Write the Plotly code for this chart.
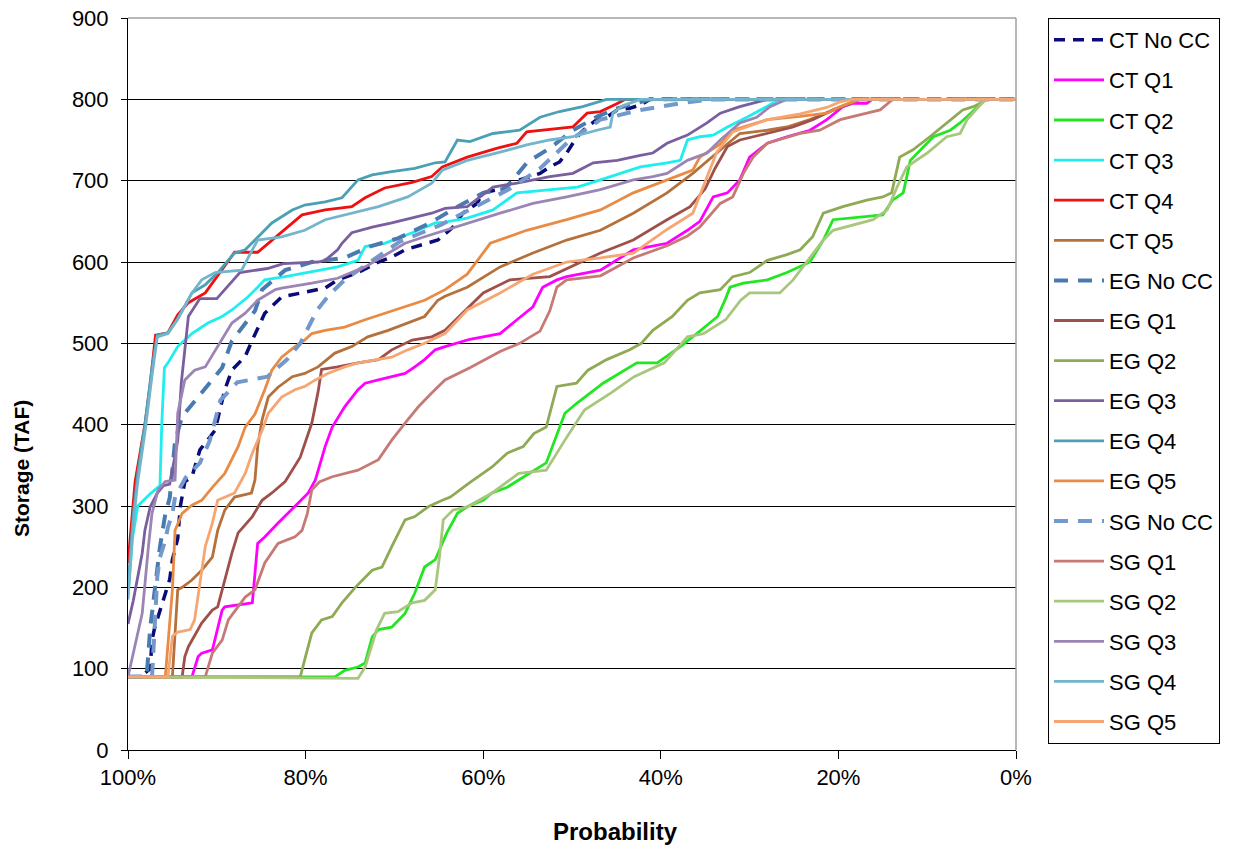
import plotly.graph_objects as go

# ---- data: probability (%) and storage (TAF) per series ----
CT_NOCC_P = [100, 98.6, 97.5, 97.3, 97.0, 96.4, 95.3, 95.0, 94.4, 94.1, 93.6, 92.8, 91.9, 90.2, 89.1, 88.3, 86.8, 86.0, 84.6, 82.7, 80.4, 77.8, 76.4, 74.1, 71.8, 70.3, 68.8, 65.1, 63.4, 62.3, 60.7, 60.0, 57.5, 57.0, 53.6, 52.5, 51.4, 50.6, 49.9, 49.1, 48.3, 47.2, 46.1, 44.9, 43.5, 42.3, 41.2, 0]
CT_NOCC_S = [90, 90, 100, 135, 150, 170, 210, 234, 260, 300, 330, 336, 369, 393, 443, 467, 484, 504, 537, 557, 562, 568, 578, 587, 600, 606, 615, 627, 643, 660, 672, 685, 691, 697, 709, 717, 723, 734, 746, 758, 766, 775, 778, 787, 789, 793, 800, 800]

CT_Q1_P = [100, 92.8, 92.1, 91.7, 90.5, 89.4, 89.1, 86.0, 85.4, 84.6, 83.1, 80.9, 79.7, 78.9, 77.8, 77.0, 75.6, 74.1, 73.3, 71.8, 70.3, 68.8, 67.7, 66.6, 65.4, 64.3, 61.5, 58.1, 56.2, 54.4, 53.3, 51.7, 50.6, 46.8, 43.1, 39.3, 37.0, 35.6, 34.1, 32.5, 31.1, 30.0, 28.0, 25.8, 23.2, 21.3, 19.5, 18.4, 16.8, 16.2, 0]
CT_Q1_S = [90, 90, 115, 119, 123, 172, 176, 181, 254, 262, 279, 303, 316, 332, 373, 397, 422, 443, 451, 455, 459, 463, 471, 480, 492, 496, 505, 512, 529, 545, 569, 578, 582, 590, 615, 623, 639, 650, 680, 685, 701, 729, 746, 754, 762, 775, 791, 795, 795, 800, 800]

CT_Q2_P = [100, 76.7, 75.6, 74.1, 73.3, 72.5, 71.8, 70.3, 68.8, 67.7, 66.6, 65.4, 64.1, 62.9, 61.8, 60.0, 59.0, 57.3, 56.0, 52.9, 50.8, 49.5, 46.5, 42.7, 40.4, 37.8, 35.6, 33.6, 32.7, 32.2, 30.7, 28.0, 25.8, 23.2, 21.7, 20.6, 15.0, 13.9, 12.7, 11.9, 9.3, 7.4, 6.3, 3.7, 3.4, 0]
CT_Q2_S = [90, 90, 98, 102, 107, 139, 148, 151, 168, 193, 225, 234, 267, 291, 299, 307, 316, 323, 332, 353, 414, 426, 451, 476, 476, 496, 515, 533, 555, 569, 574, 578, 587, 600, 627, 652, 658, 676, 685, 725, 754, 762, 771, 797, 800, 800]

CT_Q3_P = [100, 99.5, 98.9, 97.5, 96.4, 96.2, 95.9, 95.5, 94.4, 92.8, 91.0, 89.4, 88.3, 86.5, 85.4, 84.6, 82.3, 79.3, 76.4, 74.1, 73.3, 71.1, 68.0, 65.4, 64.3, 61.8, 58.9, 56.2, 52.5, 49.4, 46.8, 44.6, 42.3, 39.3, 37.8, 37.0, 35.6, 34.1, 32.5, 30.3, 28.8, 27.4, 26.2, 0]
CT_Q3_S = [190, 260, 300, 315, 325, 400, 470, 476, 496, 512, 525, 533, 541, 557, 569, 578, 582, 588, 594, 602, 619, 623, 636, 648, 649, 654, 664, 685, 689, 692, 701, 709, 717, 722, 725, 750, 754, 756, 766, 778, 787, 795, 800, 800]

CT_Q4_P = [100, 99.5, 99.2, 98.1, 97.5, 96.9, 95.5, 94.4, 93.2, 91.3, 88.7, 88.0, 85.4, 83.8, 80.4, 77.8, 74.8, 73.3, 71.1, 68.0, 65.8, 64.6, 61.8, 58.4, 56.2, 55.1, 49.9, 48.3, 46.8, 44.9, 44.0, 0]
CT_Q4_S = [230, 290, 330, 400, 450, 510, 513, 535, 550, 562, 602, 612, 612, 627, 658, 664, 668, 679, 691, 698, 705, 717, 729, 740, 746, 760, 766, 783, 785, 795, 800, 800]

CT_Q5_P = [100, 95.0, 94.4, 93.9, 92.8, 91.7, 90.5, 89.9, 89.1, 88.0, 86.1, 85.7, 85.4, 84.9, 84.2, 83.1, 81.5, 80.1, 78.6, 76.7, 74.8, 73.0, 70.7, 68.5, 66.6, 65.1, 64.3, 61.8, 58.1, 54.4, 50.6, 46.8, 43.1, 39.3, 36.4, 33.7, 31.1, 28.0, 25.8, 23.2, 20.6, 18.4, 17.6, 0]
CT_Q5_S = [90, 90, 197, 200, 209, 221, 237, 270, 295, 311, 316, 332, 373, 406, 434, 446, 459, 463, 471, 488, 496, 508, 516, 525, 533, 553, 558, 569, 594, 611, 627, 639, 660, 685, 709, 734, 758, 762, 766, 775, 787, 797, 800, 800]

EG_NOCC_P = [100, 97.9, 97.5, 97.0, 96.4, 95.8, 95.3, 94.7, 93.9, 93.0, 91.3, 89.4, 88.3, 85.7, 84.9, 82.3, 79.3, 75.6, 72.8, 69.6, 66.0, 62.9, 60.0, 57.5, 55.0, 52.5, 49.9, 47.1, 44.9, 42.7, 41.2, 0]
EG_NOCC_S = [90, 90, 150, 200, 250, 290, 310, 380, 410, 422, 445, 470, 503, 540, 566, 590, 600, 605, 619, 629, 648, 668, 685, 690, 723, 740, 762, 779, 789, 795, 800, 800]

EG_Q1_P = [100, 93.9, 93.6, 93.2, 91.7, 90.5, 89.9, 89.1, 88.3, 87.6, 86.0, 84.9, 83.8, 82.3, 80.6, 79.3, 78.6, 78.2, 76.4, 74.1, 71.8, 70.3, 68.0, 65.8, 64.3, 60.0, 57.0, 52.5, 49.1, 46.8, 43.1, 39.3, 36.7, 35.0, 33.9, 32.5, 31.1, 28.0, 25.1, 22.9, 20.6, 18.7, 17.9, 0]
EG_Q1_S = [90, 90, 115, 127, 156, 172, 176, 209, 242, 267, 287, 307, 316, 330, 360, 402, 440, 468, 471, 476, 480, 492, 504, 508, 516, 562, 578, 582, 599, 611, 627, 652, 668, 690, 715, 742, 750, 758, 766, 775, 787, 795, 800, 800]

EG_Q2_P = [100, 80.6, 80.1, 79.3, 78.2, 77.0, 75.9, 74.4, 72.5, 71.4, 70.3, 68.8, 67.7, 66.2, 64.6, 63.7, 61.6, 59.0, 57.3, 55.5, 54.3, 52.9, 51.7, 49.5, 48.2, 46.1, 43.5, 42.2, 40.9, 38.7, 37.0, 35.6, 33.3, 31.9, 30.0, 28.0, 25.8, 24.3, 22.9, 21.7, 19.5, 16.8, 15.0, 14.0, 13.1, 11.6, 9.7, 7.8, 6.0, 4.8, 3.7, 3.4, 0]
EG_Q2_S = [90, 90, 111, 144, 160, 164, 181, 200, 221, 225, 250, 283, 287, 299, 307, 311, 328, 348, 365, 373, 389, 397, 447, 451, 467, 480, 492, 500, 516, 533, 553, 562, 566, 582, 587, 602, 609, 615, 631, 660, 668, 676, 680, 685, 729, 738, 754, 771, 787, 791, 797, 800, 800]

EG_Q3_P = [100, 99.4, 98.4, 98.1, 97.5, 96.7, 96.0, 95.3, 94.4, 94.0, 93.2, 91.9, 90.0, 88.9, 87.4, 84.3, 82.5, 78.6, 77.8, 76.4, 75.9, 74.8, 72.5, 70.3, 68.0, 65.8, 64.3, 61.8, 58.9, 56.2, 52.5, 49.9, 47.6, 44.9, 42.3, 40.9, 39.3, 37.0, 34.8, 33.3, 31.1, 28.8, 28.0, 0]
EG_Q3_S = [155, 184, 242, 270, 299, 316, 325, 327, 380, 451, 533, 555, 555, 569, 587, 592, 598, 600, 602, 615, 623, 636, 643, 648, 654, 660, 666, 668, 692, 697, 705, 709, 722, 725, 731, 734, 746, 756, 771, 783, 791, 797, 800, 800]

EG_Q4_P = [100, 99.4, 98.9, 98.1, 97.3, 96.7, 95.5, 94.4, 92.8, 91.3, 89.9, 88.7, 88.0, 86.8, 85.7, 83.8, 81.5, 80.1, 77.8, 75.9, 74.1, 72.5, 70.3, 67.7, 65.4, 64.3, 62.9, 61.5, 58.9, 55.9, 53.6, 51.4, 48.8, 46.8, 46.1, 0]
EG_Q4_S = [200, 290, 340, 400, 470, 510, 513, 530, 562, 572, 587, 602, 611, 615, 627, 648, 664, 670, 674, 679, 701, 707, 711, 715, 722, 723, 750, 748, 758, 762, 778, 785, 791, 797, 800, 800]

EG_Q5_P = [100, 95.8, 95.0, 94.7, 93.9, 92.8, 91.7, 90.5, 89.1, 87.6, 86.8, 85.7, 84.6, 83.8, 82.7, 81.2, 80.1, 79.3, 77.8, 75.6, 73.3, 71.1, 68.8, 66.6, 64.3, 61.8, 59.2, 55.1, 50.6, 46.8, 43.1, 39.3, 36.4, 35.6, 33.3, 31.9, 28.0, 24.3, 21.3, 19.8, 18.4, 17.6, 0]
EG_Q5_S = [90, 90, 197, 270, 291, 301, 307, 323, 340, 373, 397, 413, 443, 467, 483, 496, 504, 512, 516, 520, 529, 537, 545, 553, 566, 585, 623, 639, 652, 664, 685, 701, 713, 729, 745, 762, 775, 779, 783, 791, 797, 800, 800]

SG_NOCC_P = [100, 97.3, 97.0, 96.7, 96.4, 95.8, 95.5, 95.0, 94.7, 93.5, 91.9, 90.8, 89.6, 87.7, 84.3, 82.1, 80.6, 79.5, 78.7, 77.3, 75.6, 73.0, 69.4, 64.9, 60.4, 57.0, 53.6, 50.2, 46.8, 42.3, 37.8, 34.5, 0]
SG_NOCC_S = [90, 90, 150, 213, 237, 258, 274, 291, 311, 335, 353, 380, 430, 452, 459, 480, 500, 525, 541, 560, 578, 598, 625, 645, 670, 690, 715, 750, 775, 787, 795, 800, 800]

SG_Q1_P = [100, 91.3, 90.5, 89.4, 88.7, 87.6, 86.8, 85.7, 84.6, 83.1, 81.2, 80.4, 79.8, 79.3, 78.4, 77.0, 74.1, 71.8, 70.3, 68.8, 67.3, 65.8, 64.3, 61.5, 58.1, 55.9, 53.6, 52.5, 51.7, 50.6, 46.8, 43.1, 39.3, 37.0, 35.6, 33.3, 31.9, 30.7, 29.6, 28.0, 24.3, 22.1, 19.8, 16.8, 15.3, 14.2, 13.9, 0]
SG_Q1_S = [90, 90, 119, 135, 160, 176, 188, 197, 230, 254, 262, 270, 291, 320, 330, 336, 344, 357, 381, 402, 422, 439, 455, 470, 490, 500, 515, 540, 569, 578, 583, 605, 620, 632, 643, 672, 680, 709, 729, 746, 758, 762, 775, 783, 787, 797, 800, 800]

SG_Q2_P = [100, 74.1, 73.3, 72.5, 72.0, 71.1, 69.6, 68.0, 66.6, 65.4, 64.9, 64.5, 63.4, 61.8, 59.0, 56.0, 52.9, 50.8, 48.6, 45.6, 43.0, 39.6, 37.0, 35.2, 32.7, 31.0, 30.0, 26.6, 25.1, 21.7, 20.6, 16.1, 14.5, 13.4, 12.3, 10.0, 7.8, 6.3, 5.5, 3.7, 3.4, 0]
SG_Q2_S = [90, 88, 102, 130, 148, 168, 170, 181, 184, 197, 240, 283, 295, 299, 316, 340, 344, 381, 418, 439, 459, 476, 508, 512, 529, 553, 562, 562, 578, 627, 639, 652, 664, 692, 717, 734, 754, 758, 775, 797, 800, 800]

SG_Q3_P = [100, 99.2, 98.4, 97.7, 97.3, 96.6, 95.8, 94.7, 94.4, 93.6, 92.5, 91.3, 89.9, 88.3, 86.8, 85.4, 83.4, 82.7, 79.3, 76.4, 73.3, 71.1, 68.8, 66.6, 64.3, 61.8, 58.1, 54.4, 50.6, 46.8, 43.1, 40.9, 39.3, 37.0, 34.8, 33.3, 31.1, 29.2, 27.7, 25.8, 0]
SG_Q3_S = [90, 127, 168, 250, 291, 320, 330, 332, 414, 455, 467, 471, 496, 525, 537, 553, 566, 568, 574, 580, 594, 608, 623, 631, 639, 648, 660, 672, 680, 689, 701, 705, 709, 725, 734, 750, 771, 778, 791, 800, 800]

SG_Q4_P = [100, 99.4, 98.9, 98.1, 97.3, 96.7, 95.5, 94.4, 92.8, 91.7, 90.2, 89.1, 87.2, 86.0, 85.4, 82.7, 80.1, 77.8, 74.8, 71.8, 68.5, 65.8, 64.6, 61.8, 58.1, 55.1, 52.5, 49.9, 47.2, 45.7, 45.4, 44.3, 42.3, 0]
SG_Q4_S = [185, 280, 330, 390, 460, 508, 512, 530, 562, 578, 587, 588, 590, 615, 627, 631, 639, 652, 660, 668, 680, 697, 713, 725, 735, 744, 750, 754, 762, 766, 783, 792, 800, 800]

SG_Q5_P = [100, 95.5, 95.0, 94.4, 93.0, 92.5, 91.3, 90.5, 89.9, 88.0, 86.8, 86.0, 84.9, 84.2, 82.7, 81.2, 80.1, 78.9, 77.5, 75.6, 74.1, 71.8, 70.3, 68.5, 66.6, 64.3, 61.8, 58.1, 54.4, 50.6, 46.8, 43.1, 39.3, 36.4, 35.0, 33.7, 31.9, 28.0, 24.3, 21.3, 19.8, 18.4, 0]
SG_Q5_S = [90, 90, 140, 145, 148, 160, 250, 279, 307, 316, 340, 365, 393, 414, 434, 443, 447, 455, 463, 471, 476, 480, 483, 492, 500, 512, 541, 562, 585, 600, 605, 611, 640, 660, 700, 735, 760, 775, 782, 790, 797, 800, 800]

SERIES_NAMES = ["CT No CC", "CT Q1", "CT Q2", "CT Q3", "CT Q4", "CT Q5",
                "EG No CC", "EG Q1", "EG Q2", "EG Q3", "EG Q4", "EG Q5",
                "SG No CC", "SG Q1", "SG Q2", "SG Q3", "SG Q4", "SG Q5"]
X_TICK_VALUES = [100, 80, 60, 40, 20, 0]
X_TICK_LABELS = ["100%", "80%", "60%", "40%", "20%", "0%"]
Y_TICK_VALUES = [0, 100, 200, 300, 400, 500, 600, 700, 800, 900]

series_data = [
    (CT_NOCC_P, CT_NOCC_S), (CT_Q1_P, CT_Q1_S), (CT_Q2_P, CT_Q2_S),
    (CT_Q3_P, CT_Q3_S), (CT_Q4_P, CT_Q4_S), (CT_Q5_P, CT_Q5_S),
    (EG_NOCC_P, EG_NOCC_S), (EG_Q1_P, EG_Q1_S), (EG_Q2_P, EG_Q2_S),
    (EG_Q3_P, EG_Q3_S), (EG_Q4_P, EG_Q4_S), (EG_Q5_P, EG_Q5_S),
    (SG_NOCC_P, SG_NOCC_S), (SG_Q1_P, SG_Q1_S), (SG_Q2_P, SG_Q2_S),
    (SG_Q3_P, SG_Q3_S), (SG_Q4_P, SG_Q4_S), (SG_Q5_P, SG_Q5_S),
]

# ---- styles ----
COLORS = ["#0A0A78", "#FF00FF", "#22E622", "#1EEEEE", "#EE1111", "#B5713C",
          "#4A7BB0", "#A0504A", "#8FAA55", "#7A5F9E", "#4AA0B5", "#E88B45",
          "#7298CC", "#C77A75", "#A9C67E", "#9A85B5", "#72B5CC", "#F5A673"]
DASHES = ["11px,8px", None, None, None, None, None,
          "14px,10px", None, None, None, None, None,
          "14px,10px", None, None, None, None, None]
WIDTHS = [3.5, 2.8, 2.8, 2.8, 2.8, 2.8,
          4.0, 2.8, 2.8, 2.8, 2.8, 2.8,
          4.0, 2.8, 2.8, 2.8, 2.8, 2.8]

FONT = "Liberation Sans, Arial, sans-serif"

fig = go.Figure()
for name, (p, s), c, d, w in zip(SERIES_NAMES, series_data, COLORS, DASHES, WIDTHS):
    line = dict(color=c, width=w)
    if d:
        line["dash"] = d
    fig.add_trace(go.Scatter(x=p, y=s, mode="lines", name=name, line=line,
                             legendgroup=name))

fig.update_layout(
    width=1249, height=852,
    margin=dict(l=128, r=233, t=18, b=102, autoexpand=False),
    paper_bgcolor="white", plot_bgcolor="white",
    font=dict(family=FONT, color="black", size=22),
    showlegend=True,
    legend=dict(
        x=(1048 - 128) / 888, xanchor="left",
        y=1.0, yanchor="top",
        bordercolor="black", borderwidth=1, bgcolor="white",
        font=dict(family=FONT, size=22, color="black"),
        itemwidth=50, tracegroupgap=8.5,
    ),
    xaxis=dict(
        range=[100, 0], tickmode="array", tickvals=X_TICK_VALUES, ticktext=X_TICK_LABELS,
        showgrid=False, zeroline=False, showline=True, linecolor="black", linewidth=1,
        ticks="outside", ticklen=8, tickcolor="black", tickwidth=1,
        tickfont=dict(family=FONT, size=22, color="black"),
    ),
    yaxis=dict(
        range=[0, 900], tickmode="array", tickvals=Y_TICK_VALUES,
        showgrid=True, gridcolor="black", gridwidth=1, zeroline=False,
        showline=True, linecolor="black", linewidth=1,
        ticks="outside", ticklen=6, tickcolor="black", tickwidth=1,
        ticklabelstandoff=8,
        tickfont=dict(family=FONT, size=22, color="black"),
    ),
    shapes=[
        dict(type="line", xref="paper", yref="paper", x0=0, x1=1, y0=1, y1=1,
             line=dict(color="#A0A0A0", width=1.5), layer="above"),
        dict(type="line", xref="paper", yref="paper", x0=1, x1=1, y0=0, y1=1,
             line=dict(color="#A0A0A0", width=1.5), layer="above"),
    ],
    annotations=[
        dict(text="<b>Storage (TAF)</b>", xref="paper", yref="paper",
             x=(21 - 128) / 888, y=(750 - 469) / 732, textangle=-90,
             xanchor="center", yanchor="middle",
             showarrow=False, font=dict(family=FONT, size=21, color="black")),
        dict(text="<b>Probability</b>", xref="paper", yref="paper",
             x=(615 - 128) / 888, y=(750 - 831) / 732,
             xanchor="center", yanchor="middle",
             showarrow=False, font=dict(family=FONT, size=24, color="black")),
    ],
)

fig.write_html("out.html")
